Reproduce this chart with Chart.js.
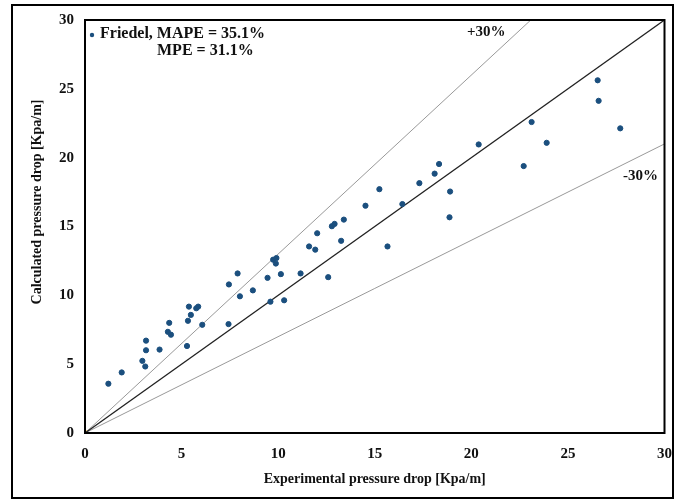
<!DOCTYPE html>
<html>
<head>
<meta charset="utf-8">
<script src="https://cdn.jsdelivr.net/npm/chart.js@4"></script>
<style>
  html, body { margin: 0; padding: 0; background: #fff; }
  #wrap { width: 684px; height: 502px; }
</style>
</head>
<body>
<div id="wrap"><canvas id="myChart" width="684" height="502"></canvas></div>
<script>
// experimental vs calculated pressure drop [Kpa/m]
const expDrop = [1.21, 1.90, 2.97, 3.12, 3.16, 3.16, 3.86, 4.29, 4.36, 4.45,
  5.28, 5.33, 5.38, 5.48, 5.76, 5.86, 6.07, 7.43, 7.45, 7.90,
  8.02, 8.69, 9.45, 9.60, 9.74, 9.91, 9.88, 10.14, 10.31, 11.16,
  11.60, 11.92, 12.02, 12.59, 12.78, 12.92, 13.26, 13.40, 14.52, 15.24,
  15.66, 16.43, 17.31, 18.10, 18.33, 18.90, 18.87, 20.38, 22.71, 23.12,
  23.90, 26.54, 26.59, 27.71];
const calcDrop = [3.58, 4.40, 5.24, 4.83, 6.01, 6.71, 6.06, 7.35, 8.00, 7.14,
  6.32, 8.15, 9.18, 8.58, 9.06, 9.18, 7.86, 7.91, 10.79, 11.59,
  9.93, 10.36, 11.27, 9.54, 12.59, 12.71, 12.31, 11.54, 9.64, 11.59,
  13.55, 13.32, 14.51, 11.32, 15.02, 15.19, 13.96, 15.50, 16.51, 17.71,
  13.55, 16.63, 18.15, 18.84, 19.54, 17.54, 15.67, 20.96, 19.39, 22.59,
  21.08, 25.62, 24.13, 22.13];

const lineX = [0, 30];
const plus30X = [0, 30 / 1.3];
const minus30Y = [0, 21];
const tickVals = [0, 5, 10, 15, 20, 25, 30];

const legendText = ['Friedel, MAPE = 35.1%', 'MPE = 31.1%'];
const yTitle = 'Calculated pressure drop [Kpa/m]';
const serif = '"Liberation Serif", "Times New Roman", serif';

const points = expDrop.map((x, i) => ({x: x, y: calcDrop[i]}));

// frame, plot box and text labels
const decor = {
  id: 'decor',
  afterDraw(chart) {
    const c = chart.ctx;
    const a = chart.chartArea;
    c.save();
    c.strokeStyle = '#000';
    c.lineWidth = 2;
    c.strokeRect(12, 5, 661, 493);
    c.strokeRect(a.left, a.top, a.right - a.left, a.bottom - a.top);

    c.fillStyle = '#111';
    c.font = 'bold 16px ' + serif;
    c.textBaseline = 'middle';
    c.textAlign = 'left';
    c.fillText(legendText[0], 100, 34);
    c.fillText(legendText[1], 157, 51);
    c.fillStyle = '#1b4f7e';
    c.beginPath();
    c.arc(92, 35, 2.2, 0, Math.PI * 2);
    c.fill();

    c.fillStyle = '#111';
    c.font = 'bold 15px ' + serif;
    c.fillText('+30%', 467, 32);
    c.fillText('-30%', 623, 176);

    // y axis title, a bit above the plot centre as in the source
    c.font = 'bold 14px ' + serif;
    c.textAlign = 'center';
    c.translate(37, 202);
    c.rotate(-Math.PI / 2);
    c.fillText(yTitle, 0, 0);
    c.restore();
  }
};

const conf = {
  type: 'scatter',
  data: {
    datasets: [
      {
        label: 'Friedel',
        data: points,
        backgroundColor: '#1b4f7e',
        borderColor: '#1b4f7e',
        pointRadius: 2.6,
        pointHoverRadius: 2.6
      },
      {
        label: 'y=x',
        data: lineX.map(v => ({x: v, y: v})),
        showLine: true,
        borderColor: '#222',
        borderWidth: 1.3,
        pointRadius: 0
      },
      {
        label: '+30%',
        data: plus30X.map(v => ({x: v, y: v * 1.3})),
        showLine: true,
        borderColor: '#999',
        borderWidth: 1,
        pointRadius: 0
      },
      {
        label: '-30%',
        data: lineX.map((v, i) => ({x: v, y: minus30Y[i]})),
        showLine: true,
        borderColor: '#999',
        borderWidth: 1,
        pointRadius: 0
      },
      {
        label: 'origin',
        data: [{x: 0, y: 0}],
        backgroundColor: '#f2a900',
        borderColor: '#f2a900',
        pointRadius: 2.5
      }
    ]
  },
  options: {
    responsive: false,
    animation: false,
    layout: {padding: {left: 0, right: 19, top: 17, bottom: 0}},
    plugins: {
      legend: {display: false},
      tooltip: {enabled: false}
    },
    scales: {
      x: {
        type: 'linear',
        min: 0,
        max: 30,
        afterFit(s) { s.height = 69; },
        afterBuildTicks(s) { s.ticks = tickVals.map(v => ({value: v})); },
        grid: {display: false, drawTicks: false},
        border: {display: false},
        ticks: {
          color: '#111',
          padding: 12,
          font: {family: serif, size: 15, weight: 'bold'}
        },
        title: {
          display: true,
          text: 'Experimental pressure drop [Kpa/m]',
          color: '#111',
          padding: {top: 0, bottom: 14},
          font: {family: serif, size: 14, weight: 'bold'}
        }
      },
      y: {
        type: 'linear',
        min: 0,
        max: 30,
        afterFit(s) { s.width = 85; },
        afterBuildTicks(s) { s.ticks = tickVals.map(v => ({value: v})); },
        grid: {display: false, drawTicks: false},
        border: {display: false},
        ticks: {
          color: '#111',
          padding: 11,
          font: {family: serif, size: 15, weight: 'bold'}
        }
      }
    }
  },
  plugins: [decor]
};

const ctx = document.getElementById('myChart').getContext('2d');
const chart = new Chart(ctx, conf);
</script>
</body>
</html>
